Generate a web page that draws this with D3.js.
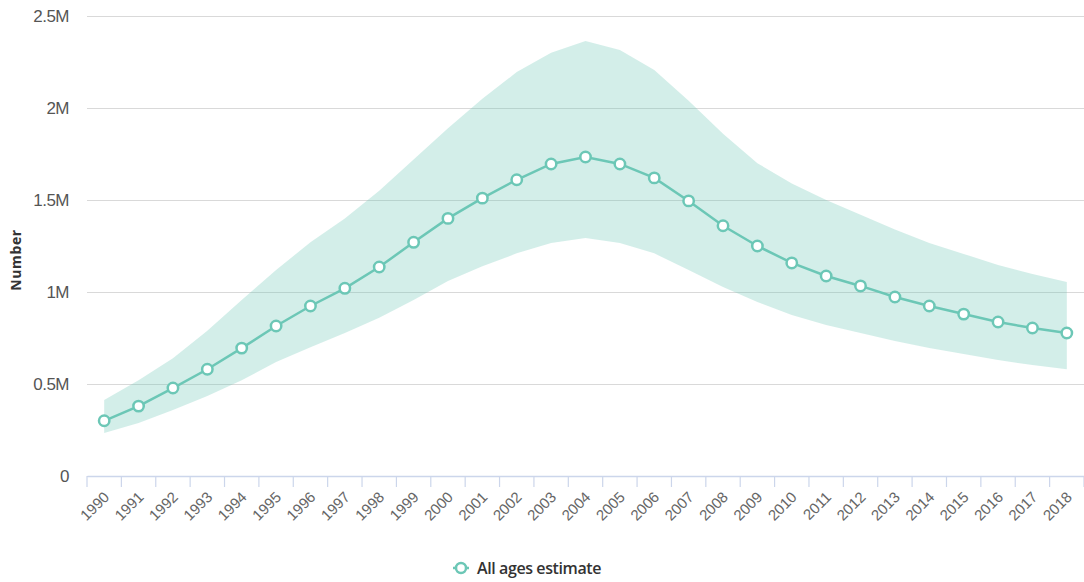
<!DOCTYPE html>
<html>
<head>
<meta charset="utf-8">
<script src="https://cdn.jsdelivr.net/npm/d3@7"></script>
<style>
  body { margin: 0; background: #fff; }
  svg { display: block; font-family: "Liberation Sans", Arial, sans-serif; }
</style>
</head>
<body>
<svg id="chart" width="1084" height="582"></svg>
<script>
// years on the x axis
const years = d3.range(1990, 2019).map(String);

// central estimate (millions)
const estimate = [0.30, 0.38, 0.478, 0.58, 0.695, 0.815, 0.924, 1.02, 1.136, 1.27,
  1.40, 1.51, 1.61, 1.696, 1.734, 1.696, 1.62, 1.495, 1.36, 1.25,
  1.158, 1.087, 1.033, 0.973, 0.924, 0.880, 0.837, 0.804, 0.777];

// uncertainty interval upper bound (millions)
const upper = [0.413, 0.52, 0.64, 0.79, 0.957, 1.12, 1.27, 1.40, 1.55, 1.72,
  1.89, 2.05, 2.195, 2.30, 2.364, 2.315, 2.207, 2.04, 1.86, 1.70,
  1.59, 1.50, 1.42, 1.34, 1.266, 1.207, 1.147, 1.098, 1.054];

// uncertainty interval lower bound (millions)
const lower = [0.234, 0.288, 0.359, 0.435, 0.52, 0.62, 0.70, 0.777, 0.86, 0.957,
  1.06, 1.14, 1.21, 1.266, 1.293, 1.266, 1.21, 1.12, 1.027, 0.946,
  0.875, 0.82, 0.777, 0.734, 0.696, 0.663, 0.63, 0.603, 0.58];

const yTicks = [0, 0.5, 1, 1.5, 2, 2.5];
const yTickLabels = ["0", "0.5M", "1M", "1.5M", "2M", "2.5M"];

const teal = "#6cc7b6";
const margin = { top: 16, right: 0, bottom: 106, left: 87 };
const width = 1084, height = 582;

const svg = d3.select("#chart");

const x = d3.scaleBand()
  .domain(years)
  .range([margin.left, width - margin.right])
  .paddingInner(0).paddingOuter(0);

const y = d3.scaleLinear()
  .domain([0, 2.5])
  .range([height - margin.bottom, margin.top]);

const cx = (d, i) => x(years[i]) + x.bandwidth() / 2;

// gridlines + y labels
const yAxis = d3.axisLeft(y)
  .tickValues(yTicks)
  .tickFormat((d, i) => yTickLabels[i])
  .tickSize(-(width - margin.left - margin.right))
  .tickPadding(18);

svg.append("g")
  .attr("transform", `translate(${margin.left},0)`)
  .call(yAxis)
  .call(g => g.select(".domain").remove())
  .call(g => g.selectAll(".tick line").attr("stroke", "#d9d9d9").attr("stroke-width", 1.2))
  .call(g => g.selectAll(".tick text")
    .attr("fill", "#555").attr("font-size", 17).style("letter-spacing", "-0.5px"));

// y title
svg.append("text")
  .attr("transform", `translate(21,${(margin.top + height - margin.bottom) / 2 + 14}) rotate(-90)`)
  .attr("text-anchor", "middle")
  .attr("font-family", "'Open Sans', sans-serif")
  .attr("font-size", 14)
  .attr("font-weight", "bold")
  .attr("fill", "#333")
  .style("letter-spacing", "0.6px")
  .text("Number");

// uncertainty area
const area = d3.area()
  .x(cx)
  .y0((d, i) => y(lower[i]))
  .y1((d, i) => y(upper[i]));

svg.append("path")
  .datum(estimate)
  .attr("d", area)
  .attr("fill", teal)
  .attr("fill-opacity", 0.3);

// x axis
const xAxis = d3.axisBottom(x).tickSize(0).tickPadding(0);
const gx = svg.append("g")
  .attr("transform", `translate(0,${height - margin.bottom})`)
  .call(xAxis);
gx.select(".domain").attr("stroke", "#ccd6eb").attr("stroke-width", 1.5);
gx.selectAll(".tick text")
  .attr("fill", "#666")
  .attr("font-size", 15)
  .attr("text-anchor", "end")
  .attr("dy", 0)
  .attr("transform", "translate(6,22) rotate(-45)");

// band boundary ticks
gx.selectAll(".band-tick")
  .data(years.concat(["end"]))
  .join("line")
  .attr("class", "band-tick")
  .attr("x1", (d, i) => margin.left + i * x.bandwidth())
  .attr("x2", (d, i) => margin.left + i * x.bandwidth())
  .attr("y1", 0).attr("y2", 11)
  .attr("stroke", "#ccd6eb")
  .attr("stroke-width", 1.2);

// estimate line
const line = d3.line()
  .x(cx)
  .y(d => y(d));

svg.append("path")
  .datum(estimate)
  .attr("d", line)
  .attr("fill", "none")
  .attr("stroke", teal)
  .attr("stroke-width", 2.5);

svg.append("g")
  .selectAll("circle")
  .data(estimate)
  .join("circle")
  .attr("cx", cx)
  .attr("cy", d => y(d))
  .attr("r", 5.2)
  .attr("fill", "#fff")
  .attr("stroke", teal)
  .attr("stroke-width", 2.5);

// legend
const lg = svg.append("g").attr("transform", "translate(461,568)");
lg.append("line")
  .attr("x1", -8).attr("x2", 8)
  .attr("stroke", teal).attr("stroke-width", 2.5);
lg.append("circle")
  .attr("r", 5).attr("fill", "#fff")
  .attr("stroke", teal).attr("stroke-width", 2.5);
lg.append("text")
  .attr("x", 16).attr("y", 6)
  .attr("font-family", "'Open Sans', sans-serif")
  .attr("font-size", 16)
  .attr("font-weight", 600)
  .attr("fill", "#333")
  .style("letter-spacing", "-0.4px")
  .text("All ages estimate");
</script>
</body>
</html>
